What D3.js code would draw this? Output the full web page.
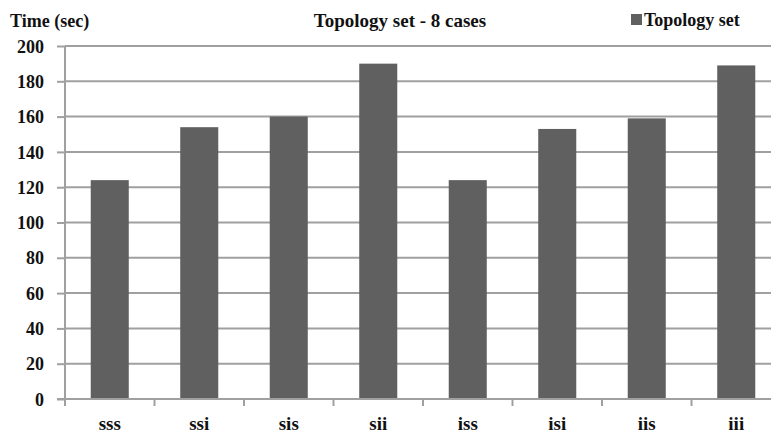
<!DOCTYPE html>
<html><head><meta charset="utf-8">
<script src="https://cdn.jsdelivr.net/npm/d3@7"></script>
</head>
<body style="margin:0"><svg id="c" width="771" height="435"></svg>
<script>
const categories = ["sss","ssi","sis","sii","iss","isi","iis","iii"];
const values = [124,154,160,190,124,153,159,189];
const yTicks = [0,20,40,60,80,100,120,140,160,180,200];
const seriesName = "Topology set";
const titleText = "Topology set - 8 cases";
const yTitle = "Time (sec)";

(function(){
const svg = d3.select("#c");
const mLeft = 65, mRight = 781, mTop = 46, mBottom = 399;
const x = d3.scaleBand().domain(categories).range([mLeft, mRight]).paddingInner(0.575).paddingOuter(0.2875);
const y = d3.scaleLinear().domain([0,200]).range([mBottom, mTop]);
const grid = "#a0a0a0";
const ff = 'serif';

svg.append("g").selectAll("line").data(yTicks.filter(d=>d>0)).join("line")
  .attr("x1", mLeft).attr("x2", 771).attr("y1", d=>y(d)).attr("y2", d=>y(d))
  .attr("stroke", grid).attr("stroke-width", 2);

svg.append("g").selectAll("rect").data(values).join("rect")
  .attr("x", (d,i)=>x(categories[i])).attr("width", x.bandwidth())
  .attr("y", d=>y(d)).attr("height", d=>y(0)-y(d))
  .attr("fill", "#606060");

const ya = svg.append("g").attr("transform", `translate(${mLeft},0)`)
  .call(d3.axisLeft(y).tickValues(yTicks).tickSize(8).tickPadding(13));
ya.attr("font-family", ff);
ya.select(".domain").remove();
ya.selectAll(".tick line").attr("stroke", grid).attr("stroke-width", 2);
ya.selectAll(".tick text").style("font-family", ff).style("font-size","18px").style("font-weight","bold").attr("fill","#111").attr("dy","0.34em");
svg.append("line").attr("x1", mLeft).attr("x2", mLeft).attr("y1", mTop).attr("y2", mBottom+7)
  .attr("stroke", grid).attr("stroke-width", 2);

svg.append("line").attr("x1", mLeft-8).attr("x2", 771).attr("y1", mBottom).attr("y2", mBottom)
  .attr("stroke", grid).attr("stroke-width", 2);
const bounds = categories.slice(1).map(c => x(c) - x.step()*x.paddingInner()/2);
svg.append("g").selectAll("line").data(bounds).join("line")
  .attr("x1", d=>d).attr("x2", d=>d).attr("y1", mBottom).attr("y2", mBottom+7)
  .attr("stroke", grid).attr("stroke-width", 2);
svg.append("g").selectAll("text").data(categories).join("text")
  .attr("x", d=>x(d)+x.bandwidth()/2).attr("y", 430).attr("text-anchor","middle")
  .style("font-family", ff).style("font-size","19px").style("font-weight","bold").attr("fill","#111").text(d=>d);

svg.append("text").attr("x", 10).attr("y", 27)
  .style("font-family", ff).style("font-size","18px").style("font-weight","bold").attr("fill","#111").text(yTitle);
svg.append("text").attr("x", 400).attr("y", 27).attr("text-anchor","middle")
  .style("font-family", ff).style("font-size","19px").style("font-weight","bold").attr("fill","#111").text(titleText);

svg.append("rect").attr("x", 631).attr("y", 14).attr("width", 11).attr("height", 11).attr("fill", "#606060");
svg.append("text").attr("x", 644).attr("y", 26)
  .style("font-family", ff).style("font-size","18px").style("font-weight","bold").attr("fill","#111").text(seriesName);
})();
</script></body></html>
